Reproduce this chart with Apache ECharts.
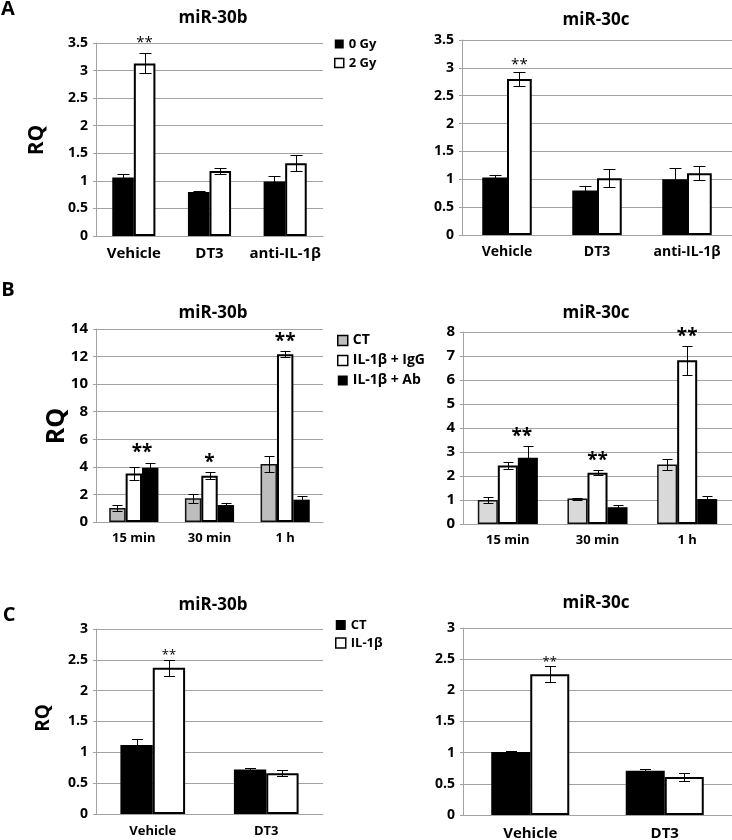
<!DOCTYPE html>
<html><head><meta charset="utf-8">
<script src="https://cdn.jsdelivr.net/npm/echarts@6/dist/echarts.min.js"></script>
<style>html,body{margin:0;padding:0;background:#fff}#c{width:732px;height:840px}</style>
</head><body><div id="c"></div>
<script>
// ---------- data ----------
const catsA = ['Vehicle', 'DT3', 'anti-IL-1β'];
const a30b_0Gy = [1.06, 0.80, 0.99];   const a30b_0Gy_err = [0.07, 0.02, 0.10];
const a30b_2Gy = [3.13, 1.18, 1.32];   const a30b_2Gy_err = [0.18, 0.05, 0.15];
const a30c_0Gy = [1.03, 0.80, 1.00];   const a30c_0Gy_err = [0.05, 0.08, 0.20];
const a30c_2Gy = [2.80, 1.02, 1.11];   const a30c_2Gy_err = [0.13, 0.16, 0.12];
const sigA30b = ['**', '', ''];
const sigA30c = ['**', '', ''];

const catsB = ['15 min', '30 min', '1 h'];
const b30b_CT  = [1.02, 1.72, 4.21];   const b30b_CT_err  = [0.19, 0.34, 0.55];
const b30b_IgG = [3.51, 3.36, 12.16];  const b30b_IgG_err = [0.48, 0.24, 0.22];
const b30b_Ab  = [3.94, 1.23, 1.62];   const b30b_Ab_err  = [0.36, 0.15, 0.24];
const b30c_CT  = [1.00, 1.06, 2.48];   const b30c_CT_err  = [0.14, 0.04, 0.21];
const b30c_IgG = [2.44, 2.14, 6.82];   const b30c_IgG_err = [0.16, 0.10, 0.60];
const b30c_Ab  = [2.76, 0.70, 1.04];   const b30c_Ab_err  = [0.47, 0.10, 0.13];
const sigB30b = ['**', '*', '**'];
const sigB30c = ['**', '**', '**'];

const catsC = ['Vehicle', 'DT3'];
const c30b_CT = [1.12, 0.72];  const c30b_CT_err = [0.09, 0.02];
const c30b_IL = [2.37, 0.66];  const c30b_IL_err = [0.13, 0.05];
const c30c_CT = [1.01, 0.71];  const c30c_CT_err = [0.02, 0.02];
const c30c_IL = [2.26, 0.61];  const c30c_IL_err = [0.13, 0.06];
const sigC30b = ['**', ''];
const sigC30c = ['**', ''];

// ---------- styles ----------
const FF = '"Open Sans", "Noto Sans", sans-serif';
const GRID_C = '#a3a3a3';
const ST = {
  black: {color: '#000'},
  white: {color: '#fff', borderColor: '#000', borderWidth: 2},
  grayB: {color: '#bdbdbd', borderColor: '#111', borderWidth: 1.5},
  grayC: {color: '#d9d9d9', borderColor: '#111', borderWidth: 1.5}
};

const panels = [
  {grid: {left: 96, top: 43, width: 227, height: 193}, cats: catsA, max: 3.5, step: 0.5, gap: 0.43,
   tickFs: 14, xFs: 15, xMargin: 10, capW: 12, starFs: 15, starGap: 14, starW: 'normal', sig: sigA30b, sigBar: [1, 1, 1],
   series: [{name: '0 Gy', v: a30b_0Gy, e: a30b_0Gy_err, st: 'black'}, {name: '2 Gy', v: a30b_2Gy, e: a30b_2Gy_err, st: 'white'}]},
  {grid: {left: 462, top: 40, width: 270, height: 195}, cats: catsA, max: 3.5, step: 0.5, gap: 0.45,
   tickFs: 14, xFs: 14, xMargin: 10, capW: 12, starFs: 15, starGap: 10, starW: 'normal', sig: sigA30c, sigBar: [1, 1, 1],
   series: [{name: '0 Gy', v: a30c_0Gy, e: a30c_0Gy_err, st: 'black'}, {name: '2 Gy', v: a30c_2Gy, e: a30c_2Gy_err, st: 'white'}]},
  {grid: {left: 96, top: 329, width: 227, height: 193}, cats: catsB, max: 14, step: 2, gap: 0.35,
   tickFs: 15, xFs: 13, xMargin: 10, capW: 10, starFs: 19, starGap: 14, starW: 'bold', sig: sigB30b, sigBar: [1.5, 1, 1],
   series: [{name: 'CT', v: b30b_CT, e: b30b_CT_err, st: 'grayB'}, {name: 'IL-1β + IgG', v: b30b_IgG, e: b30b_IgG_err, st: 'white'},
            {name: 'IL-1β + Ab', v: b30b_Ab, e: b30b_Ab_err, st: 'black'}]},
  {grid: {left: 463, top: 332, width: 269, height: 192}, cats: catsB, max: 8, step: 1, gap: 0.33,
   tickFs: 15, xFs: 13, xMargin: 10, capW: 10, starFs: 19, starGap: 14, starW: 'bold', sig: sigB30c, sigBar: [1.7, 1, 1],
   series: [{name: 'CT', v: b30c_CT, e: b30c_CT_err, st: 'grayC'}, {name: 'IL-1β + IgG', v: b30c_IgG, e: b30c_IgG_err, st: 'white'},
            {name: 'IL-1β + Ab', v: b30c_Ab, e: b30c_Ab_err, st: 'black'}]},
  {grid: {left: 96, top: 629, width: 227, height: 185}, cats: catsC, max: 3, step: 0.5, gap: 0.43,
   tickFs: 14, xFs: 13, xMargin: 11, capW: 11, starFs: 13, starGap: 7, starW: 'normal', sig: sigC30b, sigBar: [1, 1],
   series: [{name: 'CT', v: c30b_CT, e: c30b_CT_err, st: 'black'}, {name: 'IL-1β', v: c30b_IL, e: c30b_IL_err, st: 'white'}]},
  {grid: {left: 463, top: 628, width: 269, height: 187}, cats: catsC, max: 3, step: 0.5, gap: 0.42,
   tickFs: 14, xFs: 15, xMargin: 11, capW: 11, starFs: 13, starGap: 7, starW: 'normal', sig: sigC30c, sigBar: [1, 1],
   series: [{name: 'CT', v: c30c_CT, e: c30c_CT_err, st: 'black'}, {name: 'IL-1β', v: c30c_IL, e: c30c_IL_err, st: 'white'}]}
];

function barCenter(api, i, v, n, k, gap) {
  const band = api.size([1, 0])[0];
  const tw = band * (1 - gap), bw = tw / n;
  return api.coord([i, v])[0] - tw / 2 + bw * (k + 0.5);
}

const grids = [], xAxes = [], yAxes = [], series = [];
panels.forEach((p, pi) => {
  grids.push(Object.assign({outerBoundsMode: 'none', containLabel: false}, p.grid));
  xAxes.push({type: 'category', gridIndex: pi, data: p.cats,
    axisLine: {lineStyle: {color: GRID_C, width: 1}}, axisTick: {show: false},
    axisLabel: {interval: 0, hideOverlap: false, color: '#000', fontWeight: 'bold', fontSize: p.xFs, fontFamily: FF, margin: p.xMargin}});
  yAxes.push({type: 'value', gridIndex: pi, min: 0, max: p.max, interval: p.step,
    axisLine: {show: true, lineStyle: {color: GRID_C, width: 1}},
    axisTick: {show: true, length: 3, lineStyle: {color: GRID_C}},
    splitLine: {show: true, lineStyle: {color: GRID_C, width: 1}},
    axisLabel: {color: '#000', fontWeight: 'bold', fontSize: p.tickFs, fontFamily: FF, margin: 8}});
  const n = p.series.length;
  p.series.forEach((s, k) => {
    series.push({type: 'bar', name: s.name, xAxisIndex: pi, yAxisIndex: pi, data: s.v,
      barGap: '0%', barCategoryGap: (p.gap * 100) + '%', itemStyle: ST[s.st], z: 2});
  });
  p.series.forEach((s, k) => {
    series.push({type: 'custom', name: 'err' + pi + '_' + k, xAxisIndex: pi, yAxisIndex: pi, z: 5,
      data: s.v.map((v, i) => [i, v, s.e[i]]),
      renderItem: (params, api) => {
        const i = api.value(0), v = api.value(1), e = api.value(2);
        const cx = Math.round(barCenter(api, i, v, n, k, p.gap)) + 0.5;
        const yt = Math.round(api.coord([i, v + e])[1]) + 0.5;
        const yb = Math.round(api.coord([i, v - e])[1]) + 0.5;
        const st = {stroke: '#000', lineWidth: 1};
        const h = p.capW / 2;
        return {type: 'group', children: [
          {type: 'line', shape: {x1: cx, y1: yt, x2: cx, y2: yb}, style: st},
          {type: 'line', shape: {x1: cx - h, y1: yt, x2: cx + h, y2: yt}, style: st},
          {type: 'line', shape: {x1: cx - h, y1: yb, x2: cx + h, y2: yb}, style: st}]};
      }});
  });
  // significance stars, anchored above the highest error bar of the group
  const starData = [], starText = [];
  p.sig.forEach((t, i) => {
    if (!t) return;
    const top = Math.max(...p.series.map(s => s.v[i] + s.e[i]));
    starData.push([i, top, p.sigBar[i]]); starText.push(t);
  });
  series.push({type: 'custom', name: 'sig' + pi, xAxisIndex: pi, yAxisIndex: pi, z: 6, data: starData,
    renderItem: (params, api) => {
      const i = api.value(0), t = api.value(1), kk = api.value(2);
      const cx = barCenter(api, i, t, n, kk, p.gap);
      const y = api.coord([i, t])[1] - p.starGap + 0.22 * p.starFs;
      return {type: 'text', x: cx, y: y, style: {text: starText[params.dataIndex],
        font: p.starW + ' ' + p.starFs + 'px ' + FF, fill: '#000', align: 'center', verticalAlign: 'middle'}};
    }});
});

function txt(t, x, y, fs, rot) {
  return {type: 'text', x: x, y: y, rotation: rot || 0, z: 10,
    style: {text: t, font: 'bold ' + fs + 'px ' + FF, fill: '#000', align: 'center', verticalAlign: 'middle',
      textAlign: 'center', textVerticalAlign: 'middle'}};
}

const legendText = fs => ({color: '#000', fontWeight: 'bold', fontSize: fs, fontFamily: FF, lineHeight: fs + 1});
const option = {
  animation: false,
  backgroundColor: '#fff',
  grid: grids, xAxis: xAxes, yAxis: yAxes, series: series,
  legend: [
    {orient: 'vertical', left: 334, top: 37, padding: 0, itemWidth: 9, itemHeight: 9, itemGap: 5, selectedMode: false,
     textStyle: legendText(13),
     data: [{name: '0 Gy', icon: 'rect', itemStyle: {color: '#000', borderWidth: 0}},
            {name: '2 Gy', icon: 'rect', itemStyle: {color: '#fff', borderColor: '#000', borderWidth: 1.5}}]},
    {orient: 'vertical', left: 337, top: 333, padding: 0, itemWidth: 10, itemHeight: 10, itemGap: 5, selectedMode: false,
     textStyle: legendText(14),
     data: [{name: 'CT', icon: 'rect', itemStyle: {color: '#bdbdbd', borderColor: '#000', borderWidth: 1.5}},
            {name: 'IL-1β + IgG', icon: 'rect', itemStyle: {color: '#fff', borderColor: '#000', borderWidth: 1.5}},
            {name: 'IL-1β + Ab', icon: 'rect', itemStyle: {color: '#000', borderWidth: 0}}]},
    {orient: 'vertical', left: 335, top: 618, padding: 0, itemWidth: 10, itemHeight: 10, itemGap: 4, selectedMode: false,
     textStyle: legendText(13),
     data: [{name: 'CT', icon: 'rect', itemStyle: {color: '#000', borderColor: '#000', borderWidth: 0}},
            {name: 'IL-1β', icon: 'rect', itemStyle: {color: '#fff', borderColor: '#000', borderWidth: 1.5}}]}
  ],
  graphic: [
    txt('A', 8, 9, 20), txt('B', 8, 290, 20), txt('C', 9, 615, 20),
    txt('miR-30b', 213, 18, 17), txt('miR-30c', 596, 20, 17),
    txt('miR-30b', 213, 313, 17), txt('miR-30c', 596, 313, 17),
    txt('miR-30b', 213, 605, 17), txt('miR-30c', 596, 603, 17),
    txt('RQ', 37, 140, 21, Math.PI / 2), txt('RQ', 57, 426, 25, Math.PI / 2), txt('RQ', 44, 718, 19, Math.PI / 2)
  ]
};
const chart = echarts.init(document.getElementById('c'), null, {renderer: 'canvas'});
chart.setOption(option);
</script>
</body></html>
